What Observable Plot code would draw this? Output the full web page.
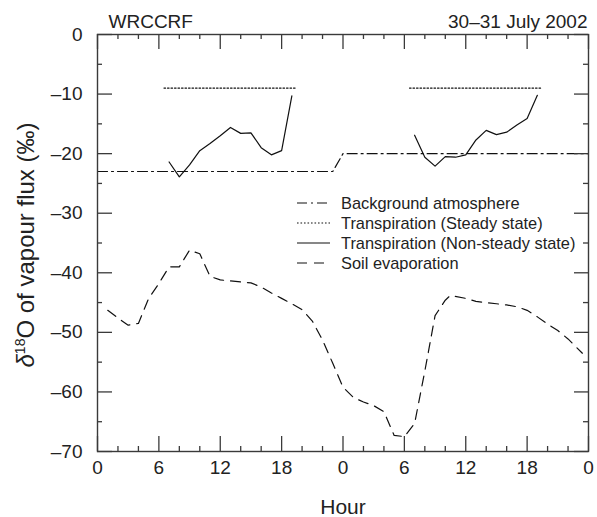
<!DOCTYPE html>
<html><head><meta charset="utf-8">
<script src="https://cdn.jsdelivr.net/npm/d3@7"></script>
<script src="https://cdn.jsdelivr.net/npm/@observablehq/plot@0.6"></script>
<style>body{margin:0;background:#fff}#chart{width:597px;height:517px}</style>
</head><body><div id="chart"></div>
<script>
// ---- tick positions and labels
const xMajorTicks = [0, 6, 12, 18, 24, 30, 36, 42, 48];
const xTickLabels = ["0", "6", "12", "18", "0", "6", "12", "18", "0"];
const xMinorTicks = [2, 4, 8, 10, 14, 16, 20, 22, 26, 28, 32, 34, 38, 40, 44, 46];
const yMajorTicks = [0, -10, -20, -30, -40, -50, -60, -70];
const yTickLabels = ["0", "\u201310", "\u201320", "\u201330", "\u201340", "\u201350", "\u201360", "\u201370"];
const yMinorTicks = [-5, -15, -25, -35, -45, -55, -65];

// ---- text
const titleLeft = "WRCCRF";
const titleRight = "30\u201331 July 2002";
const xLabel = "Hour";
const yLabel = "\u03b418O of vapour flux (\u2030)";
const legendLabels = ["Background atmosphere", "Transpiration (Steady state)", "Transpiration (Non-steady state)", "Soil evaporation"];

// ---- series
const backgroundHour = [0, 23, 24, 48];
const backgroundDelta = [-23, -23, -20, -20];

const steadyHour = [6.5, 19.5, 30.5, 43.5];
const steadyDelta = [-9, -9, -9, -9];
const steadyDay = [1, 1, 2, 2];

const nonSteadyHour = [7, 8, 9, 10, 11, 12, 13, 14, 15, 16, 17, 18, 19,
                       31, 32, 33, 34, 35, 36, 37, 38, 39, 40, 41, 42, 43];
const nonSteadyDelta = [-21.4, -23.9, -21.9, -19.5, -18.3, -17.0, -15.6, -16.6, -16.5, -19.0, -20.2, -19.5, -10.3,
                        -16.9, -20.6, -22.1, -20.5, -20.6, -20.2, -17.7, -16.1, -16.8, -16.4, -15.2, -14.1, -10.2];
const nonSteadyDay = [1,1,1,1,1,1,1,1,1,1,1,1,1, 2,2,2,2,2,2,2,2,2,2,2,2,2];

const soilHour = [1, 2, 3, 4, 5, 6, 7, 8, 9, 10, 11, 12, 15, 16, 17, 18, 19, 20, 21, 22, 23, 24, 25, 26, 27, 28, 29, 30,
                  31, 32, 33, 34, 34.5, 36, 37, 38, 39, 40, 41, 42, 43, 44, 45, 46, 47.4];
const soilDelta = [-46.3, -47.6, -48.8, -48.5, -44.3, -41.8, -39.0, -39.0, -36.2, -36.8, -40.6, -41.2, -41.7, -42.4, -43.4, -44.3,
                   -45.2, -46.2, -48.1, -51.3, -55.2, -59.2, -60.9, -61.7, -62.3, -63.3, -67.3, -67.5,
                   -65.3, -56.5, -47.2, -44.6, -43.8, -44.3, -44.8, -45.0, -45.2, -45.4, -45.7, -46.3, -47.4, -48.6, -49.7, -51.1, -53.5];

// ---- build tables
const background = backgroundHour.map((h, i) => ({h, v: backgroundDelta[i]}));
const steady = steadyHour.map((h, i) => ({h, v: steadyDelta[i], day: steadyDay[i]}));
const nonSteady = nonSteadyHour.map((h, i) => ({h, v: nonSteadyDelta[i], day: nonSteadyDay[i]}));
const soil = soilHour.map((h, i) => ({h, v: soilDelta[i]}));

const W = 597, H = 517;
const mL = 97, mR = 9, mT = 34, mB = 66;
const innerH = H - mT - mB;
const innerW = W - mL - mR;
const ink = "#111";
const axisInk = "#3a3a3a";

const styles = {
  background: {dash: "10,4,2,4", width: 1.2},
  steady: {dash: "1.6,1.9", width: 1.2},
  nonSteady: {dash: null, width: 1.2},
  soil: {dash: "10,7", width: 1.2}
};

function legend(index, scales, values, dimensions) {
  const g = d3.create("svg:g");
  const x0 = dimensions.marginLeft + 200, x1 = dimensions.marginLeft + 233, xt = dimensions.marginLeft + 244;
  const keys = ["background", "steady", "nonSteady", "soil"];
  legendLabels.forEach((lab, i) => {
    const y = dimensions.marginTop + 169 + 20 * i;
    const st = styles[keys[i]];
    g.append("line").attr("x1", x0).attr("x2", x1).attr("y1", y).attr("y2", y)
      .attr("stroke", ink).attr("stroke-width", st.width)
      .attr("stroke-dasharray", st.dash);
    g.append("text").attr("x", xt).attr("y", y).attr("dy", "0.35em")
      .attr("text-anchor", "start")
      .attr("font-size", 16.4).attr("fill", "#222").text(lab);
  });
  return g.node();
}

const chart = Plot.plot({
  width: W, height: H,
  marginLeft: mL, marginRight: mR, marginTop: mT, marginBottom: mB,
  style: {fontFamily: "'Liberation Sans', Arial, sans-serif", fontSize: "19px", color: "#222", background: "#fff"},
  x: {domain: [0, 48], axis: null},
  y: {domain: [-70, 0], axis: null},
  marks: [
    // series
    Plot.line(background, {x: "h", y: "v", stroke: ink, strokeWidth: styles.background.width, strokeDasharray: styles.background.dash}),
    Plot.line(steady, {x: "h", y: "v", z: "day", stroke: ink, strokeWidth: styles.steady.width, strokeDasharray: styles.steady.dash}),
    Plot.line(nonSteady, {x: "h", y: "v", z: "day", stroke: ink, strokeWidth: styles.nonSteady.width}),
    Plot.line(soil, {x: "h", y: "v", stroke: ink, strokeWidth: styles.soil.width, strokeDasharray: styles.soil.dash}),
    // frame
    Plot.frame({stroke: axisInk, strokeWidth: 1.4}),
    // inward ticks: bottom / top
    Plot.tickX(xMajorTicks, {x: d => d, insetTop: innerH - 15, stroke: axisInk, strokeWidth: 1.3}),
    Plot.tickX(xMinorTicks, {x: d => d, insetTop: innerH - 5, stroke: axisInk, strokeWidth: 1.3}),
    Plot.tickX(xMajorTicks, {x: d => d, insetBottom: innerH - 15, stroke: axisInk, strokeWidth: 1.3}),
    Plot.tickX(xMinorTicks, {x: d => d, insetBottom: innerH - 5, stroke: axisInk, strokeWidth: 1.3}),
    // inward ticks: left / right
    Plot.tickY(yMajorTicks, {y: d => d, insetRight: innerW - 15, stroke: axisInk, strokeWidth: 1.3}),
    Plot.tickY(yMinorTicks, {y: d => d, insetRight: innerW - 5, stroke: axisInk, strokeWidth: 1.3}),
    Plot.tickY(yMajorTicks, {y: d => d, insetLeft: innerW - 14, stroke: axisInk, strokeWidth: 1.3}),
    Plot.tickY(yMinorTicks, {y: d => d, insetLeft: innerW - 5, stroke: axisInk, strokeWidth: 1.3}),
    // tick labels
    Plot.axisX(xMajorTicks, {anchor: "bottom", tickSize: 0, tickPadding: 9, label: null,
      tickFormat: d => xTickLabels[xMajorTicks.indexOf(d)], fontSize: 19}),
    Plot.axisY(yMajorTicks, {anchor: "left", tickSize: 0, tickPadding: 15, label: null,
      tickFormat: d => yTickLabels[yMajorTicks.indexOf(d)], fontSize: 19}),
    // titles and axis labels
    Plot.text([titleLeft], {text: d => d, frameAnchor: "top-left", textAnchor: "start", lineAnchor: "middle", dx: 11, dy: -13, fontSize: 19}),
    Plot.text([titleRight], {text: d => d, frameAnchor: "top-right", textAnchor: "end", lineAnchor: "middle", dx: -1, dy: -13, fontSize: 19}),
    Plot.text([xLabel], {text: d => d, frameAnchor: "bottom", textAnchor: "middle", lineAnchor: "middle", dy: 56, fontSize: 21}),
    Plot.text([yLabel], {text: d => d, frameAnchor: "left", textAnchor: "middle", lineAnchor: "middle", rotate: -90, dx: -71, dy: 2, fontSize: 24}),
    legend
  ]
});

// superscript the 18 in the y label, italic delta
chart.querySelectorAll("text").forEach(t => {
  if (t.textContent === yLabel) {
    t.textContent = "";
    const ns = "http://www.w3.org/2000/svg";
    const a = document.createElementNS(ns, "tspan"); a.setAttribute("font-style", "italic"); a.textContent = "\u03b4";
    const b = document.createElementNS(ns, "tspan"); b.setAttribute("font-size", "14"); b.setAttribute("dy", "-9"); b.textContent = "18";
    const c = document.createElementNS(ns, "tspan"); c.setAttribute("dy", "9"); c.textContent = "O of vapour flux (\u2030)";
    t.append(a, b, c);
  }
});

document.getElementById("chart").append(chart);
</script>
</body></html>
